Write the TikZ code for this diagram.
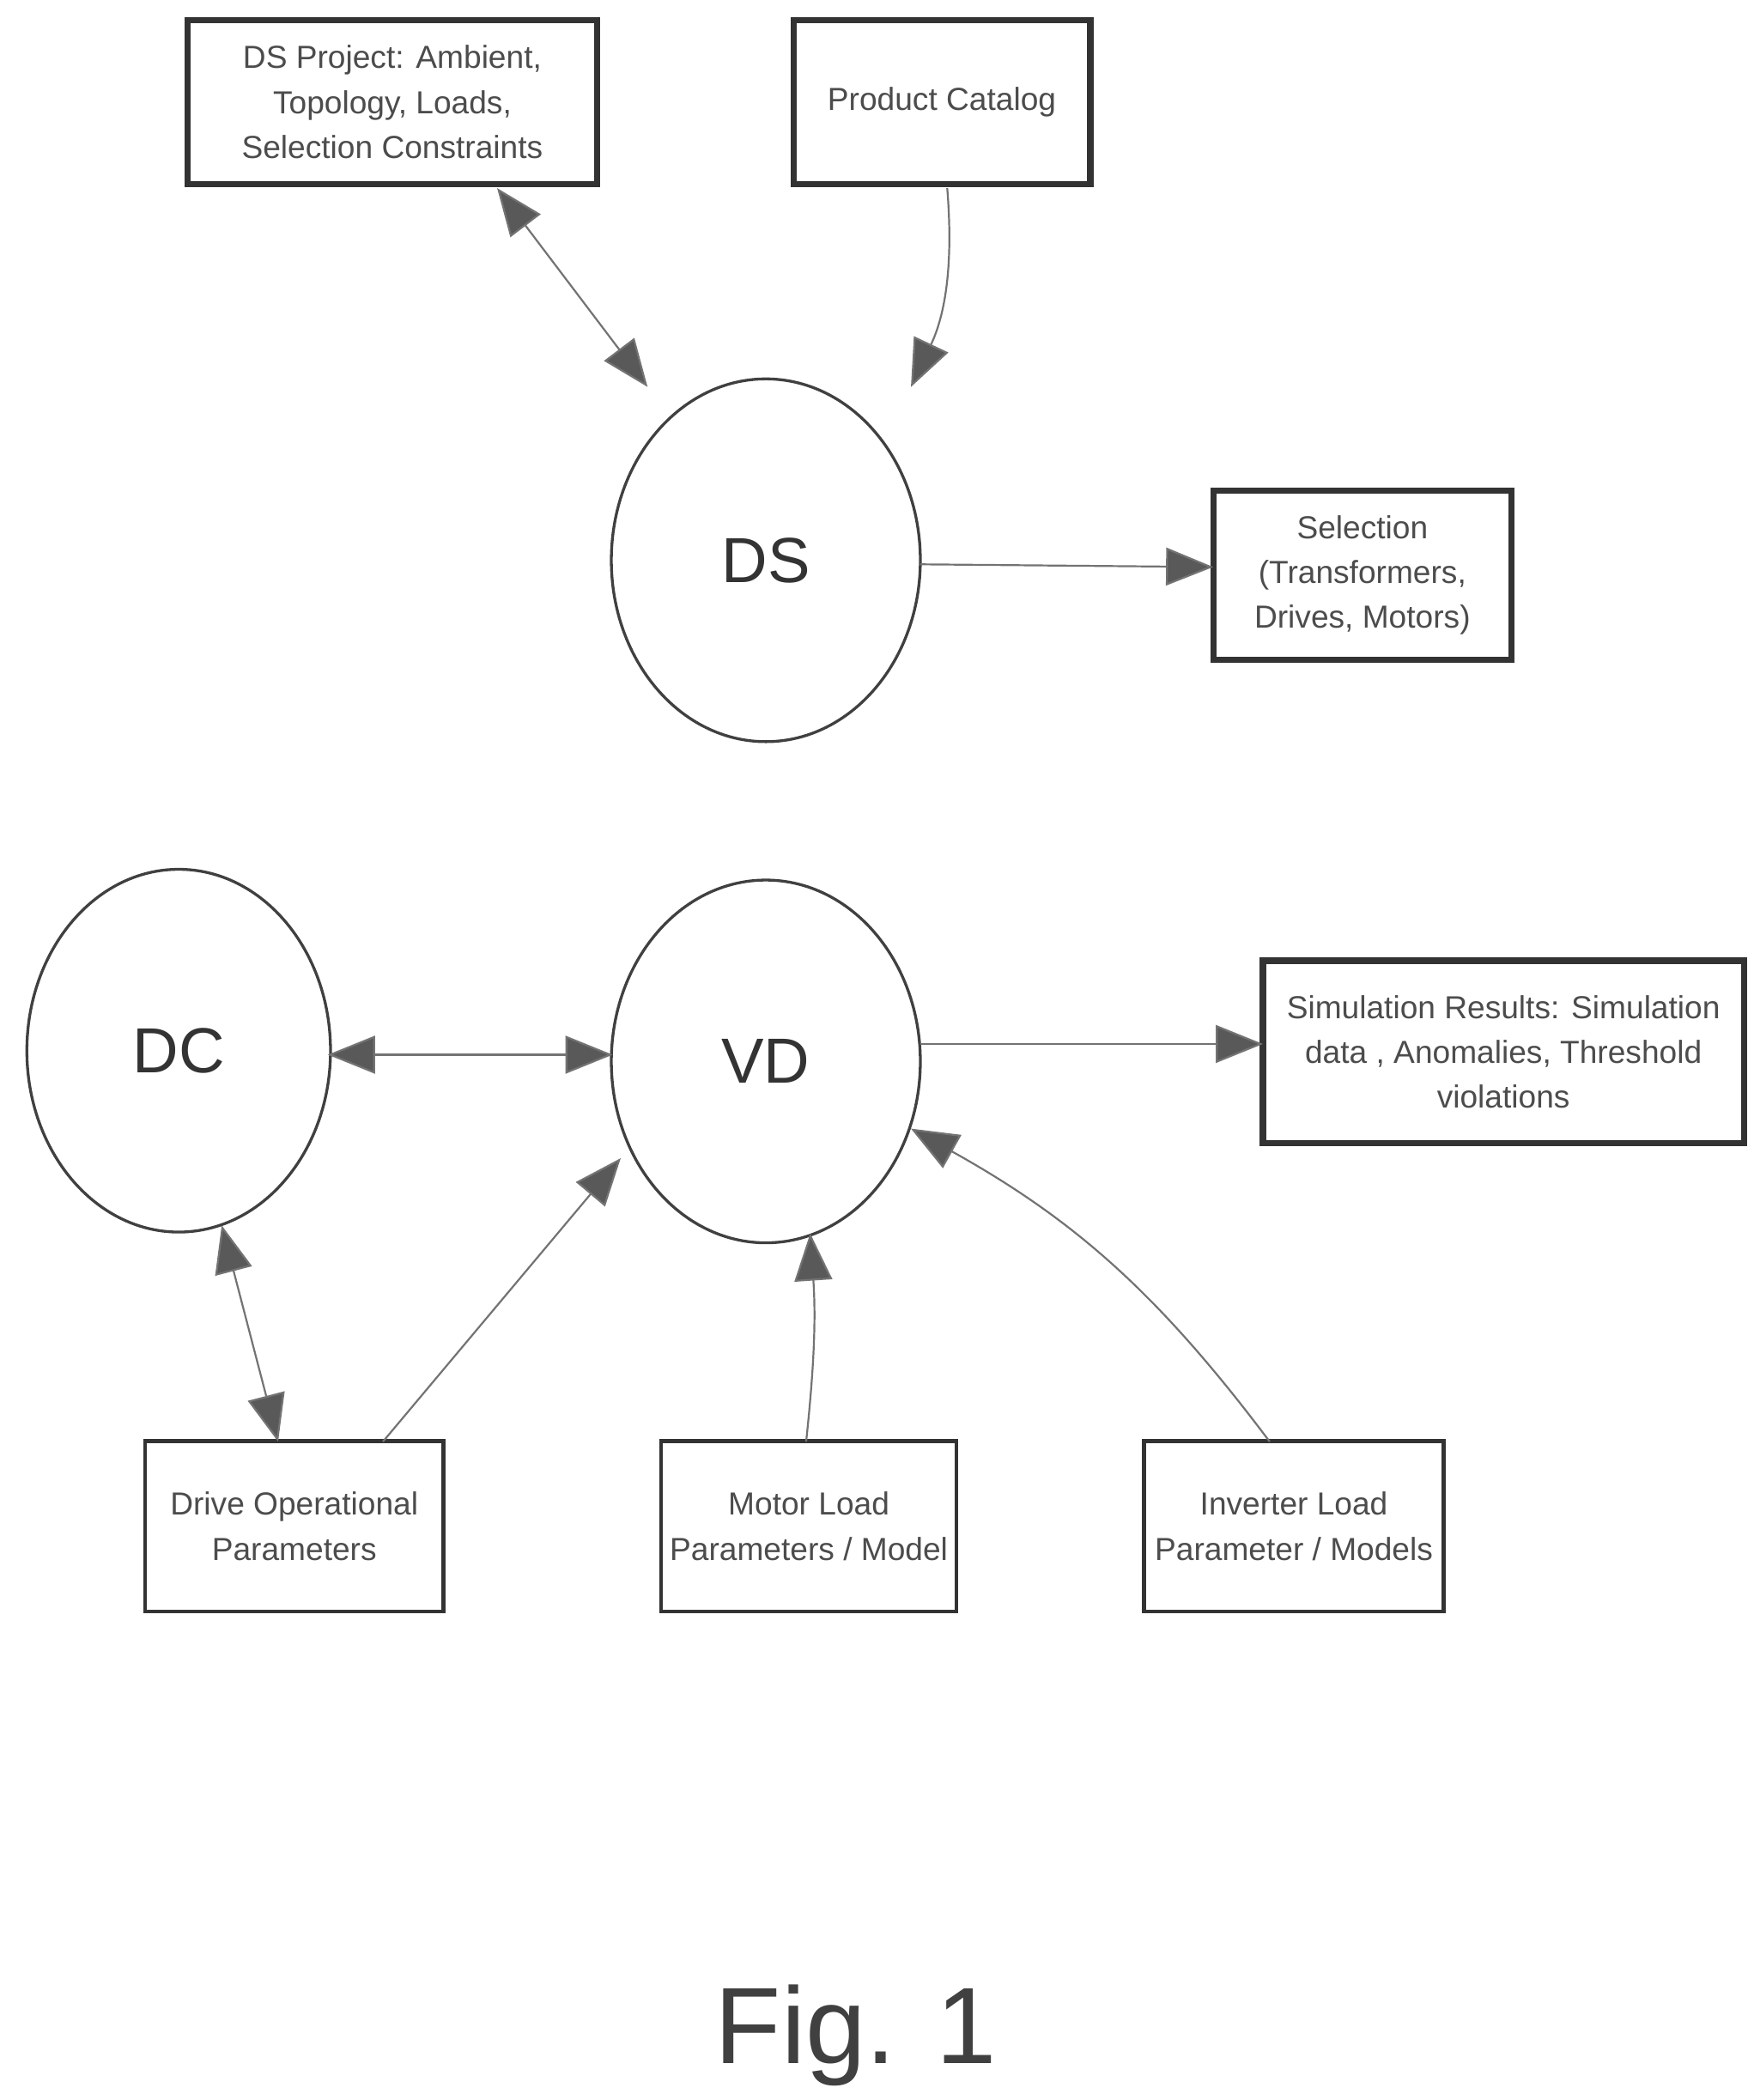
\documentclass[tikz,border=0pt]{standalone}
\usepackage{fontspec}
\setmainfont{Liberation Sans}
\usetikzlibrary{arrows.meta}
\begin{document}
\begin{tikzpicture}[x=0.02cm,y=-0.02cm,
  box/.style={draw=black!80,line width=2.6pt,align=center,text=black!70,inner sep=0pt,font=\fontsize{13.5}{19}\selectfont},
  tbox/.style={box,line width=1.6pt},
  lab/.style={text=black!80,font=\fontsize{27}{32}\selectfont},
  con/.style={draw=black!55,line width=0.8pt,-{Triangle[length=20pt,width=16pt,fill=black!65]}},
  bcon/.style={con,{Triangle[length=20pt,width=16pt,fill=black!65]}-{Triangle[length=20pt,width=16pt,fill=black!65]}}]
\useasboundingbox (0,0) rectangle (1305,1563);
\node[box,minimum width=305*0.02cm,minimum height=122*0.02cm] (p) at (292,76) {DS Project: Ambient,\\Topology, Loads,\\Selection Constraints};
\node[box,minimum width=221*0.02cm,minimum height=122*0.02cm] (c) at (701,76) {Product Catalog};
\draw[draw=black!75,line width=1.2pt] (570,417) ellipse [x radius=115,y radius=135];
\node[lab] (ds) at (570,417) {DS};
\node[box,minimum width=222*0.02cm,minimum height=126*0.02cm] (sel) at (1014,428) {Selection\\(Transformers,\\Drives, Motors)};
\draw[draw=black!75,line width=1.2pt] (133,782) ellipse [x radius=113,y radius=135];
\node[lab] (dc) at (133,782) {DC};
\draw[draw=black!75,line width=1.2pt] (570,790) ellipse [x radius=115,y radius=135];
\node[lab] (vd) at (570,790) {VD};
\node[box,minimum width=358*0.02cm,minimum height=136*0.02cm] (sim) at (1119,783) {Simulation Results: Simulation\\data , Anomalies, Threshold\\violations};
\node[tbox,minimum width=222*0.02cm,minimum height=127*0.02cm] (dr) at (219,1136) {Drive Operational\\Parameters};
\node[tbox,minimum width=220*0.02cm,minimum height=127*0.02cm] (mo) at (602,1136) {Motor Load\\Parameters / Model};
\node[tbox,minimum width=223*0.02cm,minimum height=127*0.02cm] (in) at (963,1136) {Inverter Load\\Parameter / Models};
\node[text=black!75,font=\fontsize{46}{50}\selectfont] (fig) at (637,1515) {Fig. 1};
\coordinate (a1) at (370,140); \coordinate (a2) at (482,288);
\draw[bcon] (a1) -- (a2);
\coordinate (b1) at (705,140); \coordinate (b2) at (678,288);
\draw[con] (b1) to[bend left=15] (b2);
\coordinate (s1) at (685,420); \coordinate (s2) at (903,422);
\draw[con] (s1) -- (s2);
\coordinate (d1) at (244,785); \coordinate (d2) at (456,785);
\draw[bcon] (d1) -- (d2);
\coordinate (v1) at (685,777); \coordinate (v2) at (940,777);
\draw[con] (v1) -- (v2);
\coordinate (e1) at (165,912); \coordinate (e2) at (207,1073);
\draw[bcon] (e1) -- (e2);
\coordinate (f1) at (285,1073); \coordinate (f2) at (462,862);
\draw[con] (f1) -- (f2);
\coordinate (g1) at (600,1073); \coordinate (g2) at (603,918);
\draw[con] (g1) to[bend right=5] (g2);
\coordinate (h1) at (945,1073); \coordinate (h2) at (678,840);
\draw[con] (h1) to[bend right=12] (h2);
\end{tikzpicture}
\end{document}
